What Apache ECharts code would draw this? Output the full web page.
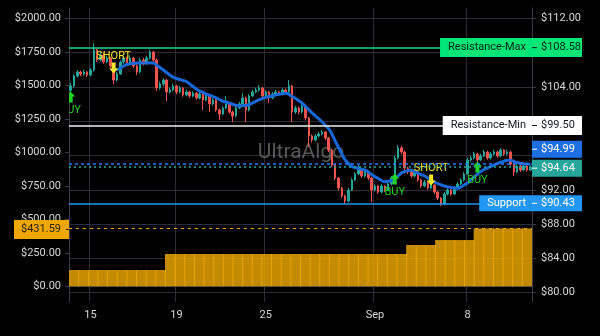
<!DOCTYPE html>
<html>
<head>
<meta charset="utf-8">
<script src="https://cdn.jsdelivr.net/npm/echarts@6/dist/echarts.min.js"></script>
<style>
  html, body { margin: 0; padding: 0; background: #000; }
  #chart { width: 600px; height: 336px; }
</style>
</head>
<body>
<div id="chart"></div>
<script>
// ---- price candles (hourly bars), right-hand price scale ----
const opens = [
  103.60,104.11,105.27,105.74,105.50,105.74,105.39,105.97,108.30,107.14,
  107.72,106.90,107.37,106.44,104.80,105.50,106.90,107.37,106.79,107.37,
  106.44,105.74,107.14,106.79,107.37,108.07,107.14,103.87,104.34,104.80,
  103.41,103.64,104.11,103.41,103.87,103.06,103.41,102.94,103.29,102.71,
  103.17,102.47,102.94,102.01,102.47,101.31,100.84,101.54,102.01,101.07,
  100.61,101.54,102.01,102.71,101.31,102.94,103.41,103.64,103.87,102.94,
  103.41,102.71,103.17,103.41,103.17,103.64,103.41,104.11,101.07,101.54,
  101.07,101.77,100.37,98.27,97.81,98.27,98.51,98.74,98.04,96.64,
  94.89,93.38,92.21,91.28,90.69,91.98,93.14,93.84,94.31,93.61,
  94.08,93.38,91.98,92.44,91.74,92.44,91.98,92.68,93.38,95.71,
  96.88,96.41,94.54,94.08,93.61,94.08,93.14,92.44,92.91,92.21,
  92.56,91.74,91.04,90.34,91.51,91.98,91.51,92.21,92.68,93.14,
  93.84,95.48,95.71,96.18,95.48,95.94,96.41,95.71,96.18,96.41,
  95.94,96.64,96.18,96.41,95.01,94.08,94.78,94.31,94.78,94.31
];
const closes = [
  104.11,105.27,105.74,105.50,105.74,105.39,105.97,108.30,107.14,107.72,
  106.90,107.37,106.44,104.80,105.50,106.90,107.37,106.79,107.37,106.44,
  105.74,107.14,106.79,107.37,108.07,107.14,103.87,104.34,104.80,103.41,
  103.64,104.11,103.41,103.87,103.06,103.41,102.94,103.29,102.71,103.17,
  102.47,102.94,102.01,102.47,101.31,100.84,101.54,102.01,101.07,100.61,
  101.54,102.01,102.71,101.31,102.94,103.41,103.64,103.87,102.94,103.41,
  102.71,103.17,103.41,103.17,103.64,103.41,104.11,101.07,101.54,101.07,
  101.77,100.37,98.27,97.81,98.27,98.51,98.74,98.04,96.64,94.89,
  93.38,92.21,91.28,90.69,91.98,93.14,93.84,94.31,93.61,94.08,
  93.38,91.98,92.44,91.74,92.44,91.98,92.68,93.38,95.71,96.88,
  96.41,94.54,94.08,93.61,94.08,93.14,92.44,92.91,92.21,92.56,
  91.74,91.04,90.34,91.51,91.98,91.51,92.21,92.68,93.14,93.84,
  95.48,95.71,96.18,95.48,95.94,96.41,95.71,96.18,96.41,95.94,
  96.64,96.18,96.41,95.01,94.08,94.78,94.31,94.78,94.31,94.64
];
const lows = [
  103.30,103.95,105.10,105.25,105.35,105.15,105.25,105.80,106.90,106.95,
  106.70,106.75,106.20,104.30,104.60,105.40,106.70,106.55,106.60,106.20,
  105.39,105.60,106.50,106.60,107.20,106.90,103.52,103.70,104.10,102.36,
  103.20,103.50,103.15,103.25,102.85,102.90,102.70,102.80,102.50,102.55,
  101.31,102.30,101.07,101.85,101.10,100.14,100.70,101.40,100.85,99.91,
  100.45,101.40,101.85,99.91,101.15,102.80,103.25,103.45,102.70,102.80,
  102.12,102.55,103.00,102.95,103.05,103.20,103.30,99.91,100.85,100.80,
  100.90,100.10,97.00,97.50,97.65,98.10,98.35,97.80,96.40,94.65,
  93.15,91.95,91.05,90.34,90.55,91.85,93.00,93.70,93.40,93.45,
  93.15,90.57,91.80,91.50,91.60,91.75,91.85,92.55,93.25,95.55,
  96.15,94.30,93.85,93.40,93.45,92.90,92.20,92.30,92.00,92.05,
  91.50,90.80,90.11,90.20,91.35,91.30,91.40,92.05,92.55,93.00,
  93.70,95.30,95.55,95.25,95.35,95.80,95.50,95.55,96.00,95.75,
  95.80,95.95,96.05,94.80,93.61,93.95,94.10,94.20,94.10,94.20
];
const highs = [
  104.45,105.45,105.95,105.90,106.00,105.85,106.20,109.09,108.45,108.05,
  107.95,107.65,107.50,106.60,105.75,107.10,107.60,107.55,107.70,107.50,
  106.65,107.35,107.40,107.60,108.34,108.20,107.30,104.60,105.00,104.95,
  103.90,104.35,104.25,104.10,104.00,103.65,103.55,103.50,103.40,103.40,
  103.30,103.15,103.05,102.70,102.60,101.50,101.75,102.94,102.15,101.25,
  101.75,102.25,103.29,102.85,103.15,103.65,103.90,104.22,104.00,103.60,
  103.55,103.40,103.65,103.55,103.85,103.80,104.80,104.25,101.80,101.70,
  102.00,101.90,100.50,98.45,98.50,98.75,98.98,98.85,98.15,96.75,
  95.00,93.50,92.35,91.45,92.20,93.35,94.05,94.89,94.45,94.30,
  94.20,93.50,92.65,92.55,92.65,92.55,92.90,93.60,95.95,97.22,
  97.10,96.55,94.70,94.25,94.30,94.20,93.25,93.15,93.05,92.80,
  92.70,91.85,91.15,91.75,92.20,92.10,92.45,92.90,93.35,94.05,
  95.70,95.95,96.45,96.30,96.20,96.65,96.55,96.40,96.65,96.55,
  96.85,96.75,96.70,96.55,95.15,95.00,94.90,95.00,94.90,94.85
];

// ---- moving average (starts after its warm-up bars) ----
const maValues = [
  null,null,null,null,null,null,null,null,null,null,
  null,null,null,106.09,106.03,106.20,106.44,106.61,106.69,106.75,
  106.79,106.79,106.79,106.79,106.81,106.79,106.55,106.26,105.97,105.68,
  105.39,105.12,104.98,104.86,104.75,104.63,104.34,104.05,103.76,103.52,
  103.35,103.17,103.03,102.90,102.71,102.53,102.33,102.24,102.10,101.97,
  101.85,101.77,101.80,101.85,101.94,102.12,102.32,102.52,102.65,102.78,
  102.88,102.96,103.06,103.14,103.20,103.25,103.14,102.88,102.65,102.39,
  102.12,101.74,101.34,100.96,100.63,100.29,99.94,99.53,99.13,98.51,
  97.69,96.93,96.18,95.48,95.07,94.72,94.60,94.51,94.40,94.31,
  94.08,93.78,93.54,93.32,93.08,92.94,92.99,93.08,93.26,93.61,
  93.96,94.13,94.25,94.27,94.13,93.96,93.78,93.61,93.38,93.14,
  92.91,92.73,92.58,92.44,92.35,92.27,92.21,92.17,92.33,92.56,
  92.79,93.14,93.49,93.84,94.13,94.37,94.54,94.72,94.89,95.07,
  95.21,95.32,95.44,95.44,95.32,95.18,95.10,95.04,95.00,94.99
];

// ---- signals: [bar index, price] ----
const buySignals = [[0, 102.82], [98, 93.26], [123, 94.66]];
const shortSignals = [[13, 106.20], [109, 93.14]];

// ---- cumulative step columns, left-hand scale ----
const stepValues = [
  121.6,121.6,121.6,121.6,121.6,121.6,121.6,121.6,121.6,121.6,
  241,241,241,241,241,241,241,241,241,241,
  241,241,241,241,241,241,241,241,241,241,
  241,241,241,241,241,308,308,308,345,345,
  345,345,431.59,431.59,431.59,431.59,431.59,431.59
];

// ---- levels ----
const resistanceMax = 108.58;
const resistanceMin = 99.50;
const supportLevel = 90.43;
const maLast = 94.99;
const lastClose = 94.64;
const cumulativeLevel = 431.59;

// ---- axis ticks ----
const tickIndex = [6, 32, 59, 92, 120];
const tickLabels = ['15', '19', '25', 'Sep', '8'];
const leftTicks = [0, 250, 500, 750, 1000, 1250, 1500, 1750, 2000];
const rightTicks = [80, 84, 88, 92, 96, 100, 104, 108, 112];
const rightTickLabels = [80, 84, 88, 92, 104, 112];

const candleCats = closes.map((_, i) => String(i));
const stepCats = stepValues.map((_, i) => String(i));
const candleData = closes.map((c, i) => [opens[i], c, lows[i], highs[i]]);

const GRID_LEFT = 69, GRID_RIGHT = 68, GRID_TOP = 8, GRID_BOTTOM = 34;
const PLOT_RIGHT = 600 - GRID_RIGHT;
const FONT = 'Roboto, "Liberation Sans", sans-serif';
const AXIS_COLOR = '#3a3a4c';
const GRID_COLOR = '#2c2c36';
const LABEL_COLOR = '#d8d8d8';
const BUY_COLOR = '#22d322';
const SHORT_COLOR = '#f5e625';

const isTick = (index) => tickIndex.indexOf(index) !== -1;
const money = (v) => '$' + Number(v).toFixed(2);

const hLine = (value, color, type, width) => ({
  yAxis: value,
  lineStyle: { color: color, type: type, width: width }
});

// arrow marker with its caption, clipped to the plot area
function signalRenderer(isBuy) {
  return function (params, api) {
    const p = api.coord([api.value(0), api.value(1)]);
    const x = p[0], y = p[1];
    const pts = isBuy
      ? [[x, y - 5.5], [x + 4.5, y - 0.5], [x + 2, y - 0.5], [x + 2, y + 5.5],
         [x - 2, y + 5.5], [x - 2, y - 0.5], [x - 4.5, y - 0.5]]
      : [[x, y + 5.5], [x + 4.5, y + 0.5], [x + 2, y + 0.5], [x + 2, y - 5.5],
         [x - 2, y - 5.5], [x - 2, y + 0.5], [x - 4.5, y + 0.5]];
    const color = isBuy ? BUY_COLOR : SHORT_COLOR;
    return {
      type: 'group',
      children: [
        { type: 'polygon', shape: { points: pts }, style: { fill: color } },
        {
          type: 'text', x: x, y: isBuy ? y + 13 : y - 12,
          style: {
            text: isBuy ? 'BUY' : 'SHORT', fill: color, fontSize: 11,
            fontFamily: FONT, align: 'center', verticalAlign: 'middle'
          }
        }
      ]
    };
  };
}

const chart = echarts.init(document.getElementById('chart'), null, { renderer: 'canvas' });

const option = {
  backgroundColor: '#000000',
  animation: false,
  textStyle: { fontFamily: FONT },
  grid: { left: GRID_LEFT, right: GRID_RIGHT, top: GRID_TOP, bottom: GRID_BOTTOM },
  xAxis: [
    {
      type: 'category',
      data: candleCats,
      boundaryGap: true,
      axisLine: { show: true, lineStyle: { color: AXIS_COLOR } },
      axisTick: { show: true, interval: isTick, alignWithLabel: false, length: 4, lineStyle: { color: AXIS_COLOR } },
      axisLabel: {
        interval: isTick,
        formatter: (v, i) => tickLabels[tickIndex.indexOf(i)] || '',
        color: LABEL_COLOR, fontSize: 11, margin: 8
      },
      splitLine: { show: true, interval: isTick, lineStyle: { color: GRID_COLOR } }
    },
    {
      type: 'category',
      data: stepCats,
      boundaryGap: true,
      show: false,
      gridIndex: 0
    }
  ],
  yAxis: [
    {
      type: 'value',
      position: 'left',
      min: -117.2,
      max: 2076.9,
      axisLine: { show: true, lineStyle: { color: AXIS_COLOR } },
      axisTick: { show: true, length: 4, customValues: leftTicks, lineStyle: { color: AXIS_COLOR } },
      axisLabel: { customValues: leftTicks, formatter: money, color: LABEL_COLOR, fontSize: 11, margin: 8 },
      splitLine: { show: false }
    },
    {
      type: 'value',
      position: 'right',
      min: 78.92,
      max: 113.2,
      axisLine: { show: true, lineStyle: { color: AXIS_COLOR } },
      axisTick: { show: true, length: 4, customValues: rightTicks, lineStyle: { color: AXIS_COLOR } },
      axisLabel: { customValues: rightTickLabels, formatter: money, color: LABEL_COLOR, fontSize: 11, margin: 9 },
      splitLine: { show: true, lineStyle: { color: GRID_COLOR } }
    }
  ],
  series: [
    {
      name: 'Cumulative',
      type: 'bar',
      xAxisIndex: 1,
      yAxisIndex: 0,
      data: stepValues,
      barWidth: 10.6,
      itemStyle: { color: 'rgba(245,172,0,0.8)' },
      z: 1,
      markLine: {
        silent: true,
        symbol: ['none', 'none'],
        label: { show: false },
        data: [hLine(cumulativeLevel, '#f0a800', [3, 4], 1)]
      }
    },
    {
      name: 'Price',
      type: 'candlestick',
      xAxisIndex: 0,
      yAxisIndex: 1,
      data: candleData,
      barWidth: 2,
      itemStyle: {
        color: '#26a69a', color0: '#ef5350',
        borderColor: '#26a69a', borderColor0: '#ef5350',
        borderWidth: 1
      },
      markLine: {
        silent: true,
        symbol: ['none', 'none'],
        label: { show: false },
        data: [
          hLine(resistanceMax, '#1ed98a', 'solid', 1.5),
          hLine(resistanceMin, '#f2f2f2', 'solid', 1.5),
          hLine(supportLevel, '#2196f3', 'solid', 1.5),
          hLine(maLast, '#2979ff', [3, 3], 1.5),
          hLine(lastClose, '#26a69a', [2, 3], 1.5)
        ]
      }
    },
    {
      name: 'MA',
      type: 'line',
      xAxisIndex: 0,
      yAxisIndex: 1,
      data: maValues,
      smooth: 0.3,
      showSymbol: false,
      connectNulls: false,
      lineStyle: { color: '#1668d8', width: 3 },
      z: 3
    },
    {
      name: 'Buy',
      type: 'custom',
      xAxisIndex: 0,
      yAxisIndex: 1,
      data: buySignals,
      clip: true,
      renderItem: signalRenderer(true),
      z: 4
    },
    {
      name: 'Short',
      type: 'custom',
      xAxisIndex: 0,
      yAxisIndex: 1,
      data: shortSignals,
      clip: true,
      renderItem: signalRenderer(false),
      z: 4
    }
  ]
};

chart.setOption(option);

// ---- price tags beside the axes ----
function rightTag(value, fill, textColor, shift, height, name) {
  const y = chart.convertToPixel({ yAxisIndex: 1 }, value) + shift;
  const els = [
    {
      type: 'rect', z: 50,
      shape: { x: PLOT_RIGHT, y: y - height / 2, width: 50, height: height },
      style: { fill: fill }
    },
    {
      type: 'line', z: 51,
      shape: { x1: PLOT_RIGHT, y1: y, x2: PLOT_RIGHT + 5, y2: y },
      style: { stroke: textColor, lineWidth: 1 }
    },
    {
      type: 'text', z: 51,
      x: PLOT_RIGHT + 9, y: y,
      style: {
        text: money(value), fill: textColor, fontSize: 11, fontFamily: FONT,
        align: 'left', verticalAlign: 'middle'
      }
    }
  ];
  if (name) {
    els.push({
      type: 'text', z: 50,
      x: PLOT_RIGHT, y: y,
      style: {
        text: name, fill: textColor, fontSize: 11, fontFamily: FONT,
        align: 'right', verticalAlign: 'middle',
        backgroundColor: fill,
        padding: [(height - 13) / 2, 6, (height - 13) / 2, 8],
        lineHeight: 13
      }
    });
  }
  return els;
}

function leftTag(value, fill, textColor, shift, height) {
  const y = chart.convertToPixel({ yAxisIndex: 0 }, value) + shift;
  return [
    {
      type: 'rect', z: 50,
      shape: { x: 14, y: y - height / 2, width: GRID_LEFT - 14, height: height },
      style: { fill: fill }
    },
    {
      type: 'line', z: 51,
      shape: { x1: GRID_LEFT - 3, y1: y, x2: GRID_LEFT, y2: y },
      style: { stroke: textColor, lineWidth: 1 }
    },
    {
      type: 'text', z: 51,
      x: GRID_LEFT - 8, y: y,
      style: {
        text: money(value), fill: textColor, fontSize: 11, fontFamily: FONT,
        align: 'right', verticalAlign: 'middle'
      }
    }
  ];
}

const graphics = [
  {
    type: 'text', z: 1,
    x: 301, y: 153,
    style: {
      text: 'UltraAlgo', fill: 'rgba(115,115,115,0.75)',
      fontSize: 21, fontFamily: FONT, align: 'center', verticalAlign: 'middle'
    }
  }
]
  .concat(rightTag(resistanceMax, '#00e676', '#0c2416', 0, 19, 'Resistance-Max'))
  .concat(rightTag(resistanceMin, '#ffffff', '#131722', 0, 19, 'Resistance-Min'))
  .concat(rightTag(maLast, '#1e6fe3', '#ffffff', -15, 17, null))
  .concat(rightTag(lastClose, '#26a69a', '#ffffff', 1, 17, null))
  .concat(rightTag(supportLevel, '#2196f3', '#ffffff', 0, 16, 'Support'))
  .concat(leftTag(cumulativeLevel, '#f0a800', '#2a1d00', 1, 19));

chart.setOption({ graphic: graphics });
</script>
</body>
</html>
